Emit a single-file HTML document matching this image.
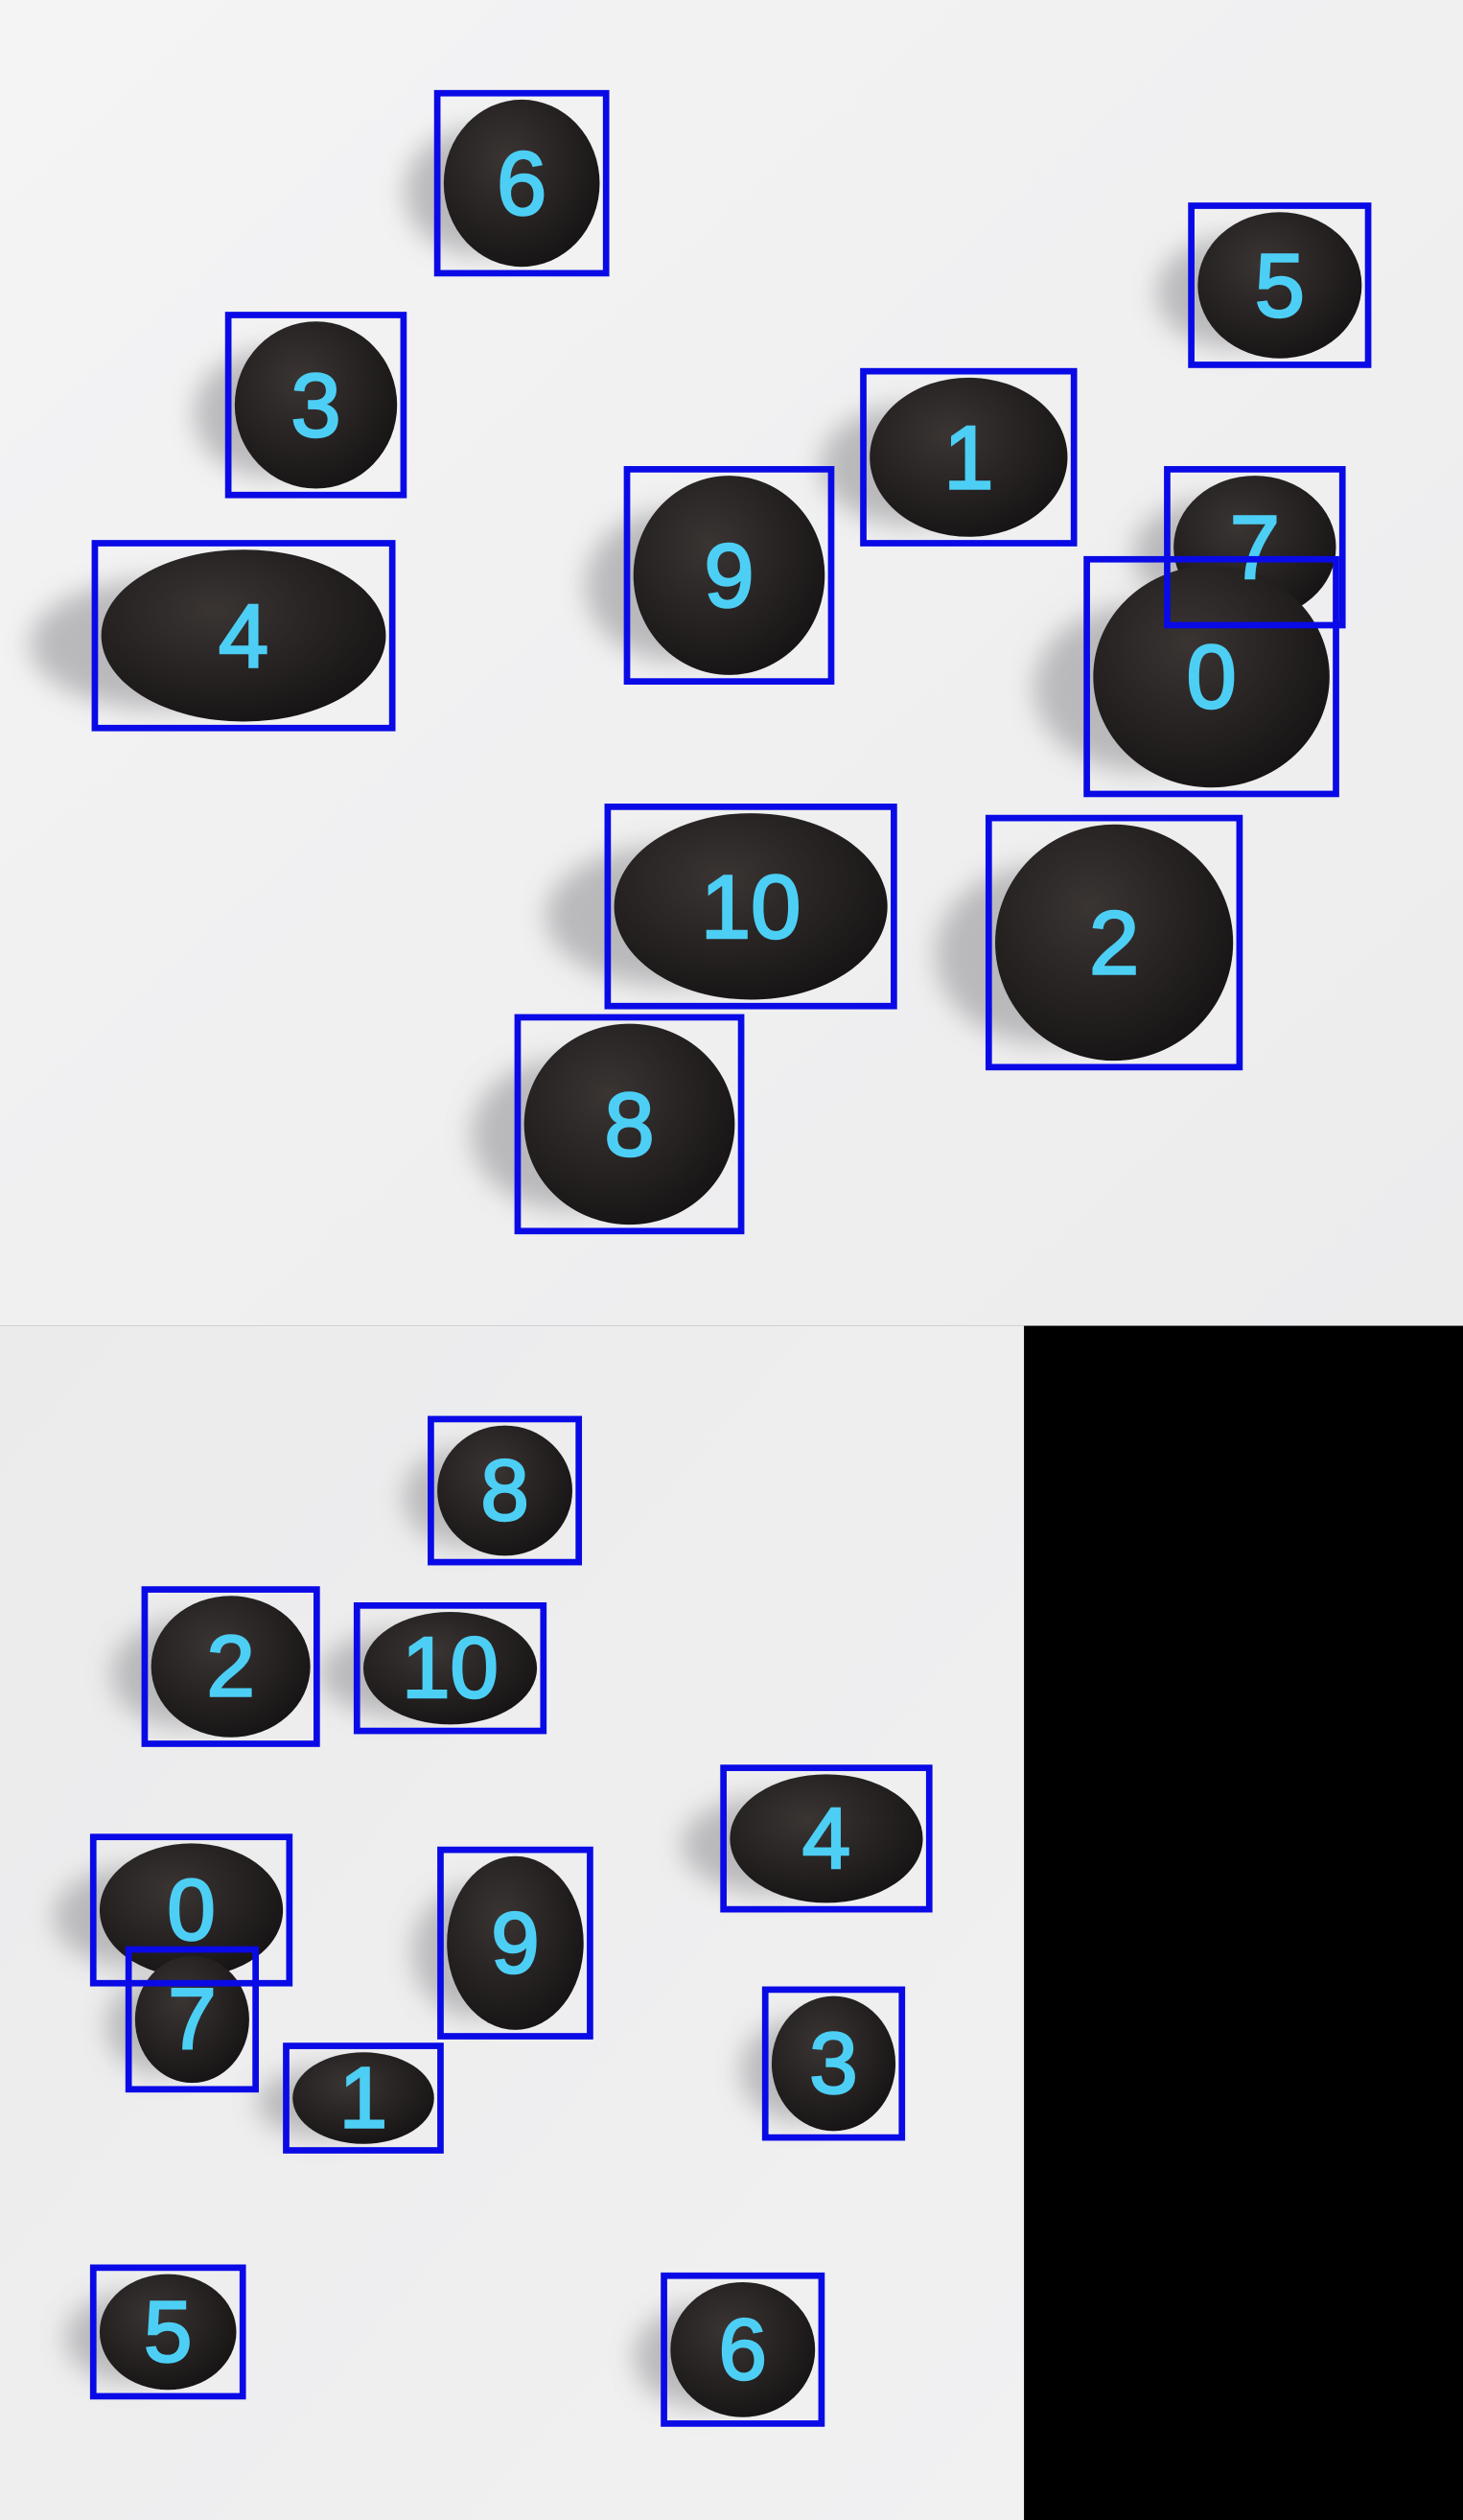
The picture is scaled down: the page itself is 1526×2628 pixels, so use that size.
<!DOCTYPE html>
<html><head><meta charset="utf-8"><style>
html,body{margin:0;padding:0;background:#000;}
svg{display:block;}
</style></head><body>
<svg id="chart" width="1526" height="2628" viewBox="0 0 910 1568" preserveAspectRatio="none" xmlns="http://www.w3.org/2000/svg">
<defs>
<filter id="blur" x="-50%" y="-50%" width="200%" height="200%"><feGaussianBlur stdDeviation="8"/></filter>
<linearGradient id="bgTop" x1="0" y1="0" x2="1" y2="1"><stop offset="0" stop-color="#f4f4f5"/><stop offset="1" stop-color="#ececed"/></linearGradient>
<linearGradient id="bgBot" x1="0" y1="0" x2="1" y2="1"><stop offset="0" stop-color="#ebebec"/><stop offset="1" stop-color="#f1f1f2"/></linearGradient>
<radialGradient id="seed" cx="0.4" cy="0.35" r="0.7"><stop offset="0" stop-color="#3a3533"/><stop offset="1" stop-color="#161314"/></radialGradient>
</defs>
<rect x="0" y="0" width="910" height="825" fill="url(#bgTop)"/>
<rect x="0" y="825" width="637" height="743" fill="url(#bgBot)"/>
<rect x="637" y="825" width="273" height="743" fill="#000"/>
<g id="layer"></g>
</svg>
<script>
const labelsTop = [6,5,3,1,9,7,4,0,10,2,8];
const x0Top = [272,741,142,537,390,726,59,676,378,615,322];
const y0Top = [58,128,196,231,292,292,338,348,502,509,633];
const x1Top = [377,851,251,668,517,835,244,831,556,771,461];
const y1Top = [170,227,308,338,424,389,453,494,626,664,766];
const labelsBot = [8,2,10,4,0,9,7,3,1,5,6];
const x0Bot = [268,90,222,450,58,274,80,476,178,58,413];
const y0Bot = [883,989,999,1100,1143,1151,1213,1238,1273,1411,1416];
const x1Bot = [360,197,338,578,180,367,159,561,274,151,511];
const y1Bot = [972,1085,1077,1188,1234,1267,1300,1330,1338,1491,1508];

const NS='http://www.w3.org/2000/svg';
const layer=document.getElementById('layer');
function mk(tag,attrs){const e=document.createElementNS(NS,tag);for(const k in attrs)e.setAttribute(k,attrs[k]);return e;}

function drawSet(labels,x0,y0,x1,y1,fs,sw,prefix){
  const shadows=mk('g',{});const seeds=mk('g',{});const boxes=mk('g',{});
  for(let i=0;i<labels.length;i++){
    const cx=(x0[i]+x1[i])/2, cy=(y0[i]+y1[i])/2;
    const rx=(x1[i]-x0[i])/2-4, ry=(y1[i]-y0[i])/2-4;
    const sh=mk('ellipse',{cx:cx-rx*0.6,cy:cy+ry*0.1,rx:rx*0.9,ry:ry*0.75,fill:'#b0b0b2',opacity:0.85,filter:'url(#blur)'});
    
    
    shadows.appendChild(sh);
    const sd=mk('ellipse',{cx:cx,cy:cy,rx:rx,ry:ry,fill:'url(#seed)'});
    
    
    seeds.appendChild(sd);
    const r=mk('rect',{x:x0[i],y:y0[i],width:x1[i]-x0[i],height:y1[i]-y0[i],fill:'none',stroke:'#0a0ae6','stroke-width':sw});
    
    
    boxes.appendChild(r);
    const t=mk('text',{x:cx,y:cy,'text-anchor':'middle','dominant-baseline':'central','font-family':'Liberation Sans, sans-serif','font-size':fs,fill:'#4dcff5',stroke:'#4dcff5','stroke-width':1.5});
    t.textContent=labels[i];
    
    
    boxes.appendChild(t);
  }
  layer.appendChild(shadows);layer.appendChild(seeds);layer.appendChild(boxes);
}
drawSet(labelsTop,x0Top,y0Top,x1Top,y1Top,56,4,'top');
drawSet(labelsBot,x0Bot,y0Bot,x1Bot,y1Bot,54,4,'bottom');
</script>
</body></html>
